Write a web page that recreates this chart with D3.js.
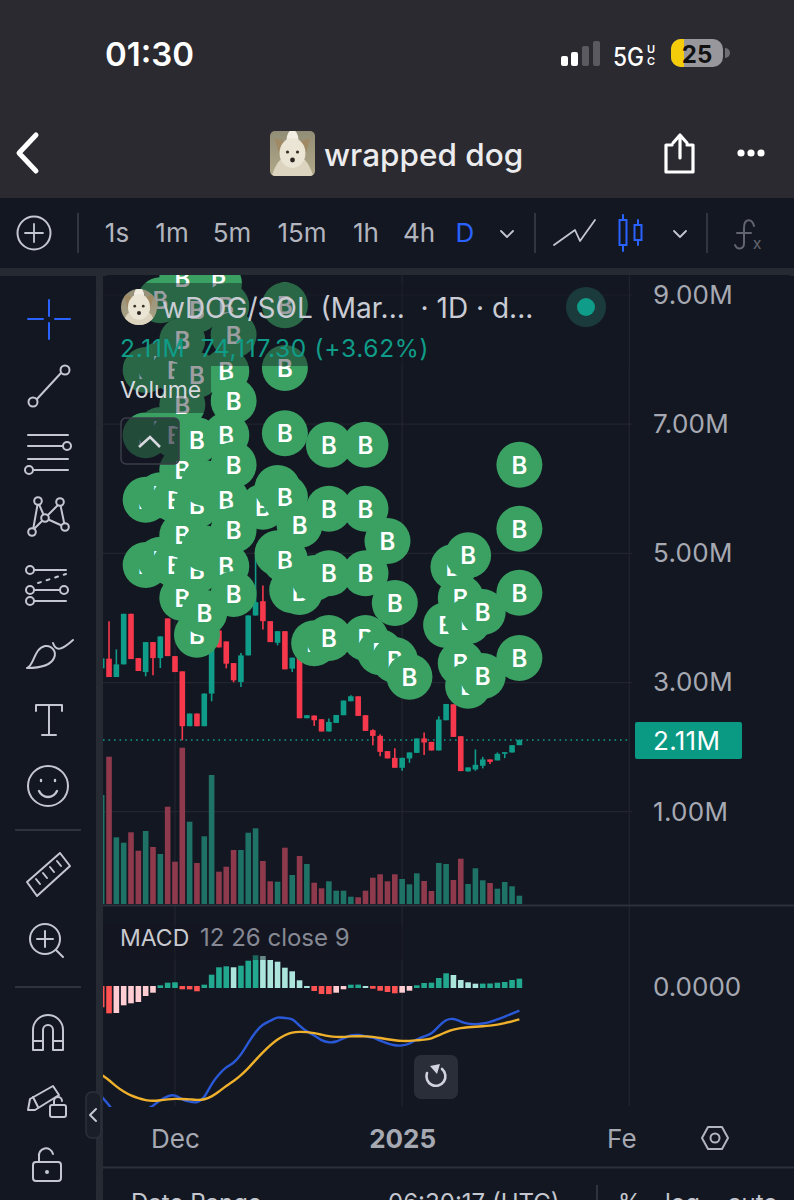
<!DOCTYPE html>
<html>
<head>
<meta charset="utf-8">
<style>
  html, body { margin: 0; padding: 0; background: #131722; }
  svg { display: block; }
  text { font-family: Inter, "Noto Sans", sans-serif; white-space: pre; }
</style>
</head>
<body>
<svg id="chart"></svg>
<script src="https://cdn.jsdelivr.net/npm/d3@7"></script>
<script>
const width = 794;
const height = 1200;

// daily candles, price in millions, 2024-11-21 to 2025-01-17
const opens = [3.219, 3.369, 3.085, 3.281, 4.064, 3.378, 3.162, 3.626, 3.378, 3.992, 3.409, 3.173, 2.324, 2.52, 2.324, 2.829, 3.806, 3.636, 3.301, 3.008, 3.42, 4.038, 4.259, 3.95, 3.616, 3.795, 3.215, 3.385, 2.447, 2.489, 2.432, 2.242, 2.375, 2.494, 2.71, 2.787, 2.494, 2.262, 2.174, 1.938, 1.834, 1.68, 1.825, 1.911, 2.134, 2.081, 1.948, 2.416, 2.663, 2.169, 1.624, 1.655, 1.711, 1.809, 1.794, 1.896, 1.917, 2.03];
const highs = [3.374, 3.95, 3.513, 4.064, 4.064, 3.378, 3.626, 3.626, 3.714, 3.992, 3.409, 3.173, 2.52, 2.52, 2.829, 3.806, 3.806, 3.636, 3.301, 3.456, 4.038, 4.965, 4.501, 3.95, 3.795, 3.795, 3.385, 3.385, 2.494, 2.489, 2.432, 2.443, 2.498, 2.721, 2.802, 2.787, 2.494, 2.277, 2.2, 1.938, 1.984, 1.834, 1.917, 2.134, 2.226, 2.081, 2.478, 2.668, 2.663, 2.169, 1.686, 1.964, 1.849, 1.809, 1.917, 1.922, 2.03, 2.12];
const lows = [3.219, 3.085, 3.085, 3.281, 3.363, 3.178, 3.096, 3.111, 3.224, 3.409, 3.162, 2.107, 2.324, 2.324, 2.324, 2.71, 3.544, 3.219, 3.003, 2.931, 3.42, 4.038, 3.822, 3.626, 3.575, 3.204, 3.162, 2.447, 2.447, 2.328, 2.242, 2.242, 2.375, 2.494, 2.71, 2.483, 2.251, 2.03, 1.86, 1.825, 1.68, 1.633, 1.757, 1.911, 1.876, 1.948, 1.948, 2.416, 2.158, 1.629, 1.624, 1.633, 1.67, 1.737, 1.794, 1.829, 1.917, 2.03];
const closes = [3.374, 3.085, 3.281, 4.064, 3.363, 3.178, 3.626, 3.378, 3.714, 3.409, 3.162, 2.324, 2.52, 2.324, 2.829, 3.806, 3.544, 3.292, 3.034, 3.42, 4.038, 4.243, 3.95, 3.626, 3.795, 3.204, 3.385, 2.447, 2.494, 2.416, 2.242, 2.39, 2.498, 2.721, 2.787, 2.483, 2.251, 2.174, 1.927, 1.825, 1.68, 1.834, 1.917, 2.134, 2.072, 1.948, 2.427, 2.668, 2.158, 1.629, 1.686, 1.726, 1.809, 1.772, 1.896, 1.922, 2.03, 2.11];
const volumes = [109, 147.3, 66.7, 61.3, 71.7, 53.3, 73, 57, 50, 97.3, 42.3, 156.3, 82.3, 41, 67.7, 129, 32.3, 37.3, 54, 54, 71.3, 75.7, 43, 22.7, 22.3, 56.3, 29, 48, 40, 21.3, 15.7, 22.7, 13.3, 13.3, 7.3, 6.7, 13.3, 26.3, 29.7, 22.7, 29.7, 25, 19.7, 30.7, 23, 13, 41, 40, 24, 45.3, 20, 35.7, 23.7, 21, 15.3, 22, 17.7, 8.3];
const macdHist = [-20.3, -26.3, -26, -18.3, -16.3, -15, -9, -5.7, 1.7, 4.3, 4.7, -2.3, -2.4, -4.3, 2.3, 12.3, 19.7, 20.7, 19.7, 21.3, 26.3, 31.7, 31, 27, 25.3, 19.3, 15.7, 6.7, 1, -4, -7, -7.1, -5.7, -2.3, 2.3, 2.4, 1, -1.7, -3.7, -5, -6.3, -5.7, -3.7, 1.7, 4, 4.3, 9, 13.7, 12, 7, 4.7, 3.3, 3.4, 3.5, 4.3, 5, 7, 8.3];
const macdLine = [-109.7, -118, -128, -133, -134.7, -133, -123, -119, -113, -109, -107.3, -113, -114.7, -116.3, -111.3, -96.3, -87.3, -79.7, -76.3, -68, -55.7, -44.7, -37, -34, -29.7, -31.3, -31, -39, -44.7, -48, -53.7, -55.7, -55, -51.3, -48, -47.7, -49.3, -50.3, -53.7, -56.3, -58.7, -58.7, -57, -52.3, -49.3, -47.3, -39, -32.3, -31.3, -34.7, -37, -37.3, -36.7, -35, -32.3, -29.7, -26.7, -23.7];
const signalLine = [-88, -93, -99.7, -104.7, -108.7, -111.3, -113.3, -114, -113.3, -112.3, -111.7, -112, -112.3, -113, -112.7, -109.7, -104.7, -98.7, -94.3, -88.3, -81.3, -73, -65.3, -58.3, -52.3, -48, -45.3, -44.7, -45, -46, -47.7, -49.3, -50, -50, -49.3, -49.3, -49.3, -49.7, -51, -52.3, -53.3, -54, -54, -53.3, -52.7, -51.7, -48.3, -45, -42.3, -41, -40.3, -39.7, -39.3, -38.7, -37.7, -36.3, -34.3, -32.3];

// buy markers, in drawing order
const markerDates = [
  '2024-11-27', '2024-11-27', '2024-11-27', '2024-11-27',
  '2024-11-29', '2024-11-29', '2024-11-29', '2024-11-29', '2024-11-29',
  '2024-12-01', '2024-12-01', '2024-12-01', '2024-12-01',
  '2024-12-02', '2024-12-02', '2024-12-02', '2024-12-02', '2024-12-02', '2024-12-02',
  '2024-12-04', '2024-12-04', '2024-12-04', '2024-12-04', '2024-12-04', '2024-12-04',
  '2024-12-05', '2024-12-05', '2024-12-05',
  '2024-12-07',
  '2024-12-08', '2024-12-08', '2024-12-08', '2024-12-08', '2024-12-08',
  '2024-12-09', '2024-12-09', '2024-12-09', '2024-12-09', '2024-12-09',
  '2024-12-13',
  '2024-12-15', '2024-12-15',
  '2024-12-16', '2024-12-16', '2024-12-16', '2024-12-16', '2024-12-16',
  '2024-12-17',
  '2024-12-18', '2024-12-18',
  '2024-12-20', '2024-12-20',
  '2024-12-22', '2024-12-22', '2024-12-22', '2024-12-22',
  '2024-12-27', '2024-12-27', '2024-12-27', '2024-12-27',
  '2024-12-29',
  '2024-12-30',
  '2024-12-31', '2024-12-31',
  '2025-01-02',
  '2025-01-07',
  '2025-01-08',
  '2025-01-09', '2025-01-09',
  '2025-01-10', '2025-01-10', '2025-01-10',
  '2025-01-12', '2025-01-12',
  '2025-01-17', '2025-01-17', '2025-01-17', '2025-01-17',
];
const markerPrices = [
  7.84, 6.83, 5.83, 4.82,
  8.92, 7.92, 6.91, 5.90, 4.90,
  7.84, 6.83, 5.83, 4.82,
  9.26, 8.30, 7.30, 6.29, 5.28, 4.31,
  8.77, 7.76, 6.75, 5.75, 4.74, 3.74,
  6.09, 5.08, 4.08,
  9.18,
  8.83, 7.82, 6.83, 5.83, 4.80,
  8.38, 7.36, 6.37, 5.36, 4.37,
  5.72,
  6.01, 5.00,
  8.84, 7.87, 6.86, 5.87, 4.90,
  4.43,
  5.44, 4.40,
  4.62, 3.61,
  6.68, 5.69, 4.69, 3.69,
  6.68, 5.69, 4.69, 3.69,
  3.47,
  5.19,
  4.23, 3.35,
  3.09,
  3.89,
  4.79,
  4.31, 3.30,
  4.97, 3.95, 2.95,
  4.09, 3.10,
  6.37, 5.38, 4.39, 3.38,
];
// markers whose letter is fully buried in the stack on the reference
const buriedPrices = [6.09, 5.08, 4.62];

const priceTicks = [9, 7, 5, 3, 1];
const lastPrice = 2.11;
const timeTicks = ['2024-12-01', '2025-01-01', '2025-02-01'];
const timeLabels = ['Dec', '2025', 'Fe'];
const intervals = ['1s', '1m', '5m', '15m', '1h', '4h', 'D'];
const intervalX = [117, 172, 232, 302, 366, 419, 465];

const parseDay = d3.utcParse('%Y-%m-%d');
const dates = d3.utcDay.range(parseDay('2024-11-21'), parseDay('2025-01-18'));

const colors = {
  bg: '#131722', head: '#2a2a30', gap: '#262a33', grid: '#22252f', line: '#2c303b',
  up: '#0f9d89', down: '#f6384c', volUp: '#1e7266', volDown: '#8f3a4c',
  histUp: '#22a88f', histUpFade: '#ace5dc', histDown: '#ff5252', histDownFade: '#ffcdd2',
  macd: '#2a59d8', signal: '#efb12c', marker: '#3aa163',
  axis: '#a6a9b2', icon: '#c4c7cf', blue: '#2962ff',
};

const svg = d3.select('#chart').attr('width', width).attr('height', height)
  .attr('viewBox', `0 0 ${width} ${height}`);

// scales
const x = d3.scaleUtc()
  .domain([parseDay('2024-11-21'), parseDay('2025-02-01')])
  .range([101.7, 629.3]);
const yPrice = d3.scaleLinear().domain([1, 9]).range([811.7, 295]);
const yVolume = d3.scaleLinear().domain([0, 160]).range([904, 744]);
const yMacd = d3.scaleLinear().domain([-120, 40]).range([1107, 947]);
const candleW = 5.6;

// ===========================================================================
//      frame
// ===========================================================================
svg.append('rect').attr('width', width).attr('height', height).attr('fill', colors.bg);
svg.append('rect').attr('width', width).attr('height', 198).attr('fill', colors.head);
svg.append('rect').attr('y', 268).attr('width', width).attr('height', 8).attr('fill', colors.gap);
svg.append('rect').attr('x', 96).attr('y', 268).attr('width', 7).attr('height', 932).attr('fill', colors.gap);
svg.append('rect').attr('x', 103).attr('y', 275).attr('width', 691).attr('height', 925).attr('rx', 6).attr('fill', colors.bg);

const defs = svg.append('defs');
defs.append('clipPath').attr('id', 'pricePane').append('rect')
  .attr('x', 103).attr('y', 275).attr('width', 526).attr('height', 630);
defs.append('clipPath').attr('id', 'macdPane').append('rect')
  .attr('x', 103).attr('y', 906).attr('width', 526).attr('height', 201);
const avatarGrad = defs.append('linearGradient').attr('id', 'avatarBg').attr('x1', 0).attr('y1', 0).attr('x2', 0).attr('y2', 1);
avatarGrad.append('stop').attr('offset', 0).attr('stop-color', '#8b8873');
avatarGrad.append('stop').attr('offset', 1).attr('stop-color', '#b8ad8c');
defs.append('clipPath').attr('id', 'avatarSquare').append('rect')
  .attr('x', 270).attr('y', 131).attr('width', 45).attr('height', 45).attr('rx', 5);
defs.append('clipPath').attr('id', 'avatarRound').append('circle')
  .attr('cx', 139).attr('cy', 307).attr('r', 18);

// grid
svg.append('g').selectAll('line').data(priceTicks).join('line')
  .attr('x1', 103).attr('x2', 632)
  .attr('y1', d => yPrice(d)).attr('y2', d => yPrice(d))
  .attr('stroke', colors.grid).attr('stroke-width', 1.2);
svg.append('g').selectAll('line').data(timeTicks).join('line')
  .attr('x1', d => x(parseDay(d))).attr('x2', d => x(parseDay(d)))
  .attr('y1', 275).attr('y2', 1106)
  .attr('stroke', colors.grid).attr('stroke-width', 1.2);
svg.append('line').attr('x1', 103).attr('x2', width).attr('y1', 905.5).attr('y2', 905.5)
  .attr('stroke', colors.line).attr('stroke-width', 2);
svg.append('line').attr('x1', 103).attr('x2', width).attr('y1', 1167.5).attr('y2', 1167.5)
  .attr('stroke', colors.line).attr('stroke-width', 2);

// ===========================================================================
//      price pane
// ===========================================================================
const pricePane = svg.append('g').attr('clip-path', 'url(#pricePane)');
const isUp = i => closes[i] >= opens[i];

pricePane.append('g').selectAll('rect').data(dates).join('rect')
  .attr('x', d => x(d) - candleW / 2)
  .attr('width', candleW)
  .attr('y', (d, i) => yVolume(volumes[i]))
  .attr('height', (d, i) => yVolume(0) - yVolume(volumes[i]))
  .attr('fill', (d, i) => (isUp(i) ? colors.volUp : colors.volDown));

pricePane.append('line')
  .attr('x1', 103).attr('x2', 632)
  .attr('y1', yPrice(lastPrice)).attr('y2', yPrice(lastPrice))
  .attr('stroke', colors.up).attr('stroke-width', 1.6).attr('stroke-dasharray', '1.6 3.9');

const candles = pricePane.append('g').selectAll('g').data(dates).join('g')
  .attr('fill', (d, i) => (isUp(i) ? colors.up : colors.down))
  .attr('stroke', (d, i) => (isUp(i) ? colors.up : colors.down));
candles.append('line')
  .attr('x1', d => x(d)).attr('x2', d => x(d))
  .attr('y1', (d, i) => yPrice(highs[i])).attr('y2', (d, i) => yPrice(lows[i]))
  .attr('stroke-width', 1.6);
candles.append('rect')
  .attr('x', d => x(d) - candleW / 2)
  .attr('width', candleW)
  .attr('y', (d, i) => yPrice(Math.max(opens[i], closes[i])))
  .attr('height', (d, i) => Math.max(1.5, Math.abs(yPrice(opens[i]) - yPrice(closes[i]))))
  .attr('stroke', 'none');

const markers = pricePane.append('g').selectAll('g').data(markerDates).join('g')
  .attr('transform', (d, i) => `translate(${x(parseDay(d))},${yPrice(markerPrices[i])})`);
markers.append('circle').attr('r', 23).attr('fill', colors.marker);
markers.filter((d, i) => !buriedPrices.includes(markerPrices[i])).append('text').text('B')
  .attr('text-anchor', 'middle').attr('dy', 9)
  .attr('font-size', 24).attr('font-weight', 600).attr('fill', '#ffffff');

// legend shade over the markers
svg.append('rect').attr('x', 103).attr('y', 283).attr('width', 526).attr('height', 83)
  .attr('fill', colors.bg).attr('opacity', 0.42);
svg.append('rect').attr('x', 103).attr('y', 366).attr('width', 108).attr('height', 47)
  .attr('fill', colors.bg).attr('opacity', 0.42);

// ===========================================================================
//      macd pane
// ===========================================================================
const macdPane = svg.append('g').attr('clip-path', 'url(#macdPane)');
const zero = yMacd(0);

function histColor(d, i) {
  const prev = i > 0 ? macdHist[i - 1] : d + 1;
  if (d >= 0) return d >= prev ? colors.histUp : colors.histUpFade;
  return d <= prev ? colors.histDown : colors.histDownFade;
}

macdPane.append('g').selectAll('rect').data(macdHist).join('rect')
  .attr('x', (d, i) => x(dates[i]) - candleW / 2)
  .attr('width', candleW)
  .attr('y', d => (d >= 0 ? yMacd(d) : zero - 1))
  .attr('height', d => Math.abs(yMacd(d) - zero) + 1)
  .attr('fill', histColor);

const macdPath = d3.line().x((d, i) => x(dates[i])).y(d => yMacd(d)).curve(d3.curveBasis);
macdPane.append('path').attr('d', macdPath(macdLine)).attr('fill', 'none')
  .attr('stroke', colors.macd).attr('stroke-width', 2.4);
macdPane.append('path').attr('d', macdPath(signalLine)).attr('fill', 'none')
  .attr('stroke', colors.signal).attr('stroke-width', 2.4);

svg.append('rect').attr('x', 103).attr('y', 925).attr('width', 300).attr('height', 35)
  .attr('fill', colors.bg).attr('opacity', 0.45);

// ===========================================================================
//      axes
// ===========================================================================
const priceAxis = svg.append('g').attr('transform', 'translate(629,0)')
  .call(d3.axisRight(yPrice).tickValues(priceTicks).tickSize(0).tickPadding(24)
    .tickFormat(d => `${d3.format('.2f')(d)}M`));
const macdAxis = svg.append('g').attr('transform', 'translate(629,0)')
  .call(d3.axisRight(yMacd).tickValues([0]).tickSize(0).tickPadding(24)
    .tickFormat(d3.format('.4f')));
const timeAxis = svg.append('g').attr('transform', 'translate(0,1121)')
  .call(d3.axisBottom(x).tickValues(timeTicks.map(parseDay)).tickSize(0).tickPadding(9)
    .tickFormat((d, i) => timeLabels[i]));
[priceAxis, macdAxis, timeAxis].forEach((axis) => {
  axis.select('.domain').remove();
  axis.selectAll('text').attr('fill', colors.axis).attr('font-size', 26)
    .style('font-family', 'Inter, sans-serif');
});
priceAxis.selectAll('text').attr('letter-spacing', 0.3);
timeAxis.selectAll('text').filter((d, i) => i === 1).attr('font-weight', 700);
timeAxis.selectAll('text').filter((d, i) => i === 2).attr('dx', -8);

svg.append('rect').attr('x', 635).attr('y', 722).attr('width', 107).attr('height', 37).attr('rx', 2)
  .attr('fill', '#0a9a84');
svg.append('text').text('2.11M').attr('x', 653).attr('y', 750)
  .attr('font-size', 26).attr('letter-spacing', 0.3).attr('fill', '#ffffff');

// ===========================================================================
//      legend
// ===========================================================================
function label(txt, tx, ty, size, fill, weight, anchor) {
  return svg.append('text').text(txt).attr('x', tx).attr('y', ty)
    .attr('font-size', size).attr('fill', fill)
    .attr('font-weight', weight || 400).attr('text-anchor', anchor || 'start');
}

function dog(cx, cy, k, clip) {
  const g = svg.append('g').attr('clip-path', `url(#${clip})`);
  g.append('rect').attr('x', cx - 30).attr('y', cy - 30).attr('width', 60).attr('height', 60)
    .attr('fill', 'url(#avatarBg)');
  g.append('path')
    .attr('d', `M${cx - 18 * k} ${cy - 15 * k} L${cx - 8 * k} ${cy - 12 * k} L${cx - 13 * k} ${cy + 2 * k} Z M${cx + 18 * k} ${cy - 15 * k} L${cx + 8 * k} ${cy - 12 * k} L${cx + 13 * k} ${cy + 2 * k} Z`)
    .attr('fill', '#a08a66');
  g.append('path')
    .attr('d', `M${cx - 22 * k} ${cy + 26 * k} Q${cx - 15 * k} ${cy + 6 * k} ${cx - 10 * k} ${cy + 6 * k} H${cx + 10 * k} Q${cx + 15 * k} ${cy + 6 * k} ${cx + 22 * k} ${cy + 26 * k} Z`)
    .attr('fill', '#dcd4bf');
  g.append('ellipse').attr('cx', cx).attr('cy', cy - 13 * k).attr('rx', 6 * k).attr('ry', 10 * k).attr('fill', '#f2eee4');
  g.append('ellipse').attr('cx', cx).attr('cy', cy).attr('rx', 13 * k).attr('ry', 15 * k).attr('fill', '#ebe5d6');
  g.append('circle').attr('cx', cx - 5 * k).attr('cy', cy - 1 * k).attr('r', 1.6 * k).attr('fill', '#3a3026');
  g.append('circle').attr('cx', cx + 5 * k).attr('cy', cy - 1 * k).attr('r', 1.6 * k).attr('fill', '#3a3026');
  g.append('circle').attr('cx', cx).attr('cy', cy + 7 * k).attr('r', 2.4 * k).attr('fill', '#2b2420');
}

dog(139, 307, 0.85, 'avatarRound');
label('wDOG/SOL (Mar...  · 1D · d...', 162, 318, 28, '#c9ccd4');
svg.append('circle').attr('cx', 586).attr('cy', 307).attr('r', 20).attr('fill', '#1b3a3c');
svg.append('circle').attr('cx', 586).attr('cy', 307).attr('r', 9).attr('fill', '#0f9d89');
label('2.11M  74,117.30 (+3.62%)', 120, 357, 24.5, '#0f9d89').attr('letter-spacing', 0.7);
label('Volume', 120, 398, 23, '#d7d9df');
svg.append('rect').attr('x', 121).attr('y', 418).attr('width', 58).attr('height', 46).attr('rx', 5)
  .attr('fill', '#131722').attr('fill-opacity', 0.62).attr('stroke', '#3a3e48').attr('stroke-width', 1.5);
svg.append('path').attr('d', 'M139 447 L150 437 L160 447').attr('fill', 'none')
  .attr('stroke', '#d7d9df').attr('stroke-width', 2.6);
label('MACD', 120, 946, 23, '#c8cad0');
label('12 26 close 9', 200, 946, 24, '#868993');

// ===========================================================================
//      phone header and toolbars
// ===========================================================================
label('01:30', 105, 66, 33, '#ffffff', 600);
[[561, 56], [571, 52], [582, 46], [593, 41]].forEach(([bx, by], i) => {
  svg.append('rect').attr('x', bx).attr('y', by).attr('width', 7).attr('height', 66 - by)
    .attr('rx', 2).attr('fill', i < 2 ? '#ffffff' : '#5a5a60');
});
label('5G', 613, 66, 25, '#ffffff', 500).attr('textLength', 31).attr('lengthAdjust', 'spacingAndGlyphs');
label('U', 647, 53, 11, '#ffffff', 600);
label('C', 647, 65, 11, '#ffffff', 600);
svg.append('rect').attr('x', 671).attr('y', 39).attr('width', 52).attr('height', 28).attr('rx', 10).attr('fill', '#98989c');
svg.append('path').attr('d', 'M684 39 V67 H681 A10 10 0 0 1 671 57 V49 A10 10 0 0 1 681 39 Z').attr('fill', '#f5cc0a');
svg.append('path').attr('d', 'M725 48 A5 5 0 0 1 725 58 Z').attr('fill', '#6e6e72');
label('25', 697, 63, 24, '#111111', 700, 'middle');

function stroke(d, col, w) {
  return svg.append('path').attr('d', d).attr('fill', 'none').attr('stroke', col)
    .attr('stroke-width', w || 2).attr('stroke-linecap', 'round').attr('stroke-linejoin', 'round');
}

function ring(cx, cy, r, col, fill) {
  return svg.append('circle').attr('cx', cx).attr('cy', cy).attr('r', r)
    .attr('fill', fill || 'none').attr('stroke', col).attr('stroke-width', 2);
}

stroke('M36 135 L19 153 L36 171', '#ffffff', 5);
dog(292.5, 153, 1, 'avatarSquare');
label('wrapped dog', 324, 166, 31.5, '#ececee', 500);
stroke('M672 145 H666 V172 H693 V145 H687 M680 158 V136 M673 143 L680 135 L687 143', '#ffffff', 3.2);
[741, 751, 761].forEach((cx) => svg.append('circle').attr('cx', cx).attr('cy', 153).attr('r', 3.6).attr('fill', '#ffffff'));

ring(34, 233, 16.5, colors.icon);
stroke('M25 233 H43 M34 224 V242', colors.icon, 1.8);
[78, 535, 707].forEach((dx) => svg.append('line').attr('x1', dx).attr('x2', dx).attr('y1', 213).attr('y2', 253)
  .attr('stroke', '#3a3e48').attr('stroke-width', 1.6));
intervals.forEach((t, i) => {
  label(t, intervalX[i], 242, 26, t === 'D' ? colors.blue : '#b2b5be', 400, 'middle');
});
stroke('M501 231 L507 237 L513 231', colors.icon, 1.8);
stroke('M554 245 L575 230 L580 241 L595 220', colors.icon, 1.8);
svg.append('rect').attr('x', 619.5).attr('y', 220).attr('width', 7).attr('height', 25).attr('fill', 'none').attr('stroke', colors.blue).attr('stroke-width', 2);
svg.append('rect').attr('x', 634.5).attr('y', 225).attr('width', 7).attr('height', 15).attr('fill', 'none').attr('stroke', colors.blue).attr('stroke-width', 2);
stroke('M623 215 V220 M623 245 V251 M638 220 V225 M638 240 V245', colors.blue, 2);
stroke('M674 231 L680 237 L686 231', colors.icon, 1.8);
stroke('M754 226 C752 218 744 218 744 228 V243 C744 250 737 250 735 245 M737 233 H751', '#62656e', 2);
label('x', 757, 249, 16, '#62656e', 400, 'middle');

// drawing tools
const ic = colors.icon;
stroke('M49 300 V316 M49 323 V339 M28 319 H43 M55 319 H70', colors.blue, 2);
stroke('M37 399 L61 373', ic);
ring(33, 402, 4.5, ic);
ring(65, 370, 4.5, ic);
stroke('M28 435 H68 M28 446 H63 M28 459 H68 M34 470 H68', ic);
ring(67, 446, 4, ic);
ring(29, 470, 4, ic);
stroke('M33 530 L38 502 L45 518 L60 503 L65 527 L45 518 L33 530', ic);
[[32, 532], [38, 501], [45, 518], [60, 502], [65, 527]].forEach(([cx, cy]) => ring(cx, cy, 3.8, ic, colors.bg));
stroke('M34 570 H66 M34 590 H60 M34 601 H66', ic);
stroke('M38 583 L66 574', ic).attr('stroke-dasharray', '3 6');
[[30, 570], [30, 590], [30, 601], [64, 590]].forEach(([cx, cy]) => ring(cx, cy, 4, ic, colors.bg));
stroke('M27 668 C34 666 34 648 45 646 C52 645 57 652 54 658 C50 667 36 668 27 668 Z M53 643 C56 652 62 650 73 640', ic);
stroke('M36 711 V705 H62 V711 M49 705 V735 M42 735 H56', ic);
ring(48, 786, 20, ic);
stroke('M39 791 C43 799 53 799 57 791 M41 780 V781 M55 780 V781', ic, 2.4);
[830, 987].forEach((ly) => svg.append('line').attr('x1', 15).attr('x2', 81).attr('y1', ly).attr('y2', ly).attr('stroke', '#3a3e48').attr('stroke-width', 1.6));
stroke('M27 882 L60 853 L70 866 L37 896 Z M36 879 L40 884 M43 873 L47 878 M50 867 L54 872 M57 861 L61 866', ic);
ring(45, 939, 15, ic);
stroke('M37 939 H53 M45 931 V947 M56 950 L63 957', ic);
stroke('M33 1050 V1030 A15 15 0 0 1 63 1030 V1050 H53 V1030 A5 5 0 0 0 43 1030 V1050 Z M33 1041 H43 M53 1041 H63', ic);
stroke('M30 1099 L53 1086 L59 1095 L35 1110 L28 1110 Z M33 1097 L38 1107', ic);
svg.append('rect').attr('x', 50).attr('y', 1105).attr('width', 16).attr('height', 12).attr('rx', 2).attr('fill', 'none').attr('stroke', ic).attr('stroke-width', 2);
stroke('M54 1105 V1101 A4 4 0 0 1 62 1101', ic);
svg.append('rect').attr('x', 33).attr('y', 1162).attr('width', 28).attr('height', 19).attr('rx', 3).attr('fill', 'none').attr('stroke', ic).attr('stroke-width', 2);
stroke('M39 1162 V1157 A7 7 0 0 1 53 1154', ic);
svg.append('circle').attr('cx', 47).attr('cy', 1172).attr('r', 2).attr('fill', ic);

// collapse tab, reset button, settings, bottom bar
svg.append('rect').attr('x', 86).attr('y', 1092).attr('width', 15).attr('height', 46).attr('rx', 6)
  .attr('fill', '#1a1e28').attr('stroke', '#2c303b').attr('stroke-width', 1.5);
stroke('M96 1109 L90 1115 L96 1121', ic, 2);
svg.append('rect').attr('x', 414).attr('y', 1055).attr('width', 44).attr('height', 44).attr('rx', 7).attr('fill', '#2a2e39');
stroke('M442 1069 A9.5 9.5 0 1 1 427 1073', '#d1d4dc', 2.6);
svg.append('path').attr('d', 'M430 1066 L440 1064 L437 1074 Z').attr('fill', '#d1d4dc');
stroke('M702 1138 L708 1127 H722 L728 1138 L722 1149 H708 Z', '#b2b5be', 2);
ring(715, 1138, 4.5, '#b2b5be');

label('Date Range', 131, 1211, 24, '#c4c7cf');
label('06:30:17 (UTC)', 388, 1211, 24, '#c4c7cf');
svg.append('line').attr('x1', 597).attr('x2', 597).attr('y1', 1185).attr('y2', 1200).attr('stroke', '#3a3e48').attr('stroke-width', 1.5);
label('%', 618, 1211, 24, '#c4c7cf');
label('log', 665, 1211, 24, '#c4c7cf');
label('auto', 728, 1211, 24, '#c4c7cf');
</script>
</body>
</html>
